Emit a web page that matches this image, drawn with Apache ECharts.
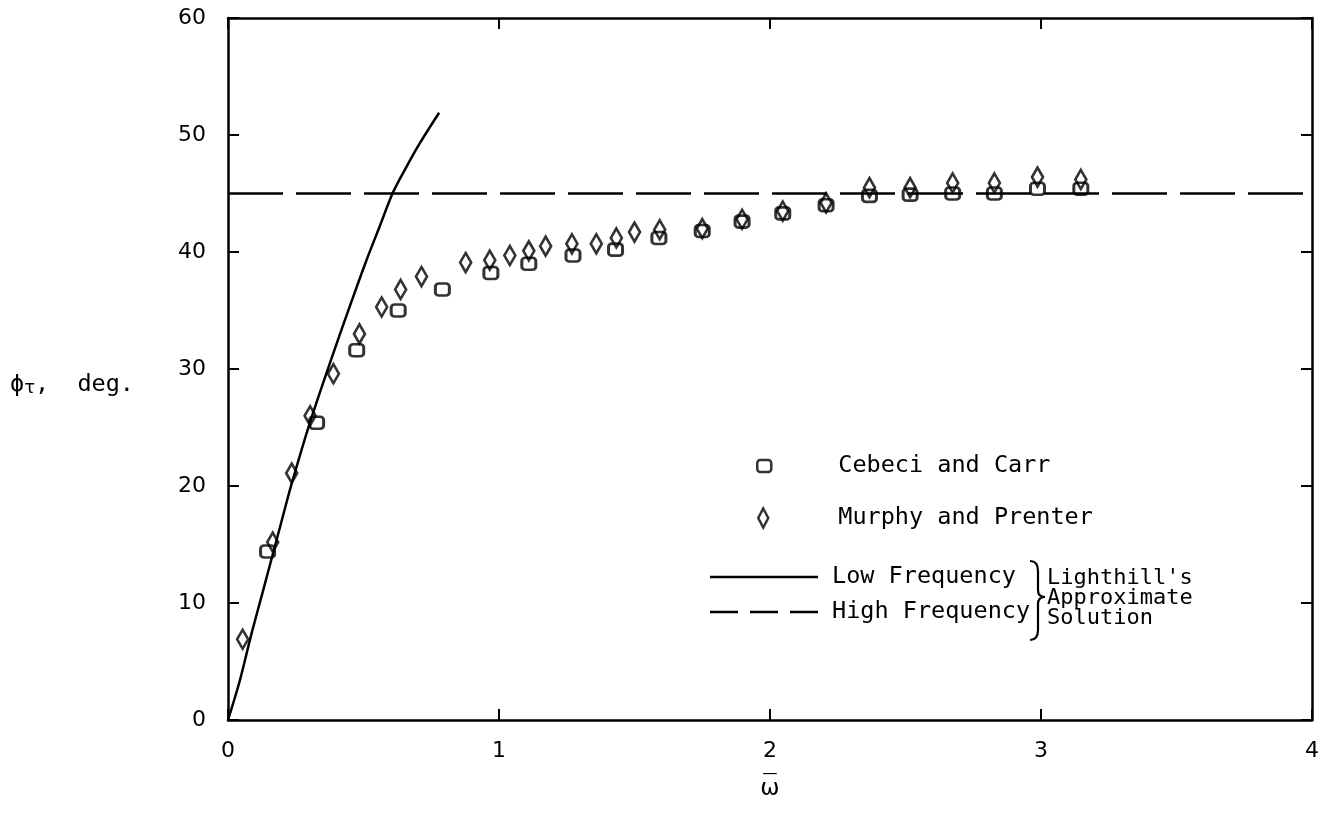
<!DOCTYPE html>
<html><head><meta charset="utf-8">
<script src="https://cdn.jsdelivr.net/npm/echarts@6/dist/echarts.min.js"></script>
<style>html,body{margin:0;padding:0;background:#fff}#c{width:1322px;height:815px}</style>
</head><body><div id="c"></div>
<script>
// ---- data ----
const xTickValues = [0, 1, 2, 3, 4];
const yTickValues = [0, 10, 20, 30, 40, 50, 60];

const cebeciX = [0.146, 0.327, 0.475, 0.628, 0.791, 0.970, 1.110, 1.273, 1.430, 1.590, 1.750, 1.897, 2.047, 2.207, 2.367, 2.517, 2.674, 2.828, 2.987, 3.147];
const cebeciY = [14.4, 25.4, 31.6, 35.0, 36.8, 38.2, 39.0, 39.7, 40.2, 41.2, 41.8, 42.6, 43.3, 44.0, 44.8, 44.9, 45.0, 45.0, 45.4, 45.4];

const murphyX = [0.054, 0.165, 0.235, 0.303, 0.389, 0.485, 0.567, 0.637, 0.714, 0.877, 0.966, 1.040, 1.110, 1.172, 1.269, 1.359, 1.433, 1.500, 1.593, 1.750, 1.897, 2.047, 2.207, 2.367, 2.517, 2.674, 2.828, 2.987, 3.147];
const murphyY = [6.9, 15.2, 21.1, 26.0, 29.6, 33.0, 35.3, 36.8, 37.9, 39.1, 39.3, 39.7, 40.1, 40.5, 40.7, 40.7, 41.2, 41.7, 41.9, 42.0, 42.8, 43.5, 44.2, 45.5, 45.5, 45.9, 45.9, 46.4, 46.2];

const lowFreqX = [0, 0.044, 0.087, 0.130, 0.192, 0.235, 0.302, 0.376, 0.450, 0.511, 0.560, 0.609, 0.659, 0.708, 0.779];
const lowFreqY = [0, 3.4, 7.4, 11.1, 16.5, 20.2, 25.4, 30.5, 35.4, 39.3, 42.2, 45.1, 47.3, 49.3, 51.9];

const highFreqX = [0, 4];
const highFreqY = [45, 45];

const seriesNames = ['Cebeci and Carr', 'Murphy and Prenter', 'Low Frequency', 'High Frequency'];
const braceLabel = ["Lighthill's", 'Approximate', 'Solution'];
const xAxisTitle = ['\u2014', '\u03C9'];          // omega with an over-bar
const yAxisTitle = ['\u03D5', '\u03C4', ',  deg.'];
// --------------------------------------

const zip = (a, b) => a.map((v, i) => [v, b[i]]);
const INK = '#000';
const MONO = '"DejaVu Sans Mono", "Liberation Mono", monospace';
const SANS = '"DejaVu Sans", sans-serif';
const FS = 23.5;

const chart = echarts.init(document.getElementById('c'), null, {renderer: 'canvas'});

const axisCommon = {
  type: 'value',
  axisLine: {show: true, onZero: false, lineStyle: {color: INK, width: 2.5}},
  axisTick: {show: true, inside: true, length: 11, lineStyle: {color: INK, width: 2}},
  splitLine: {show: false}
};

const braceStyle = {fill: 'none', stroke: INK, lineWidth: 2.2};
const legendText = (padLeft) => ({fontSize: FS, lineHeight: 24, color: INK, fontFamily: MONO, padding: [0, 0, 0, padLeft]});

const option = {
  backgroundColor: '#ffffff',
  animation: false,
  grid: {left: 228, right: 9, top: 18, bottom: 95, containLabel: false},
  xAxis: [
    Object.assign({}, axisCommon, {
      min: xTickValues[0], max: xTickValues[xTickValues.length - 1], interval: 1,
      position: 'bottom',
      axisLabel: {show: true, margin: 20, fontSize: 22, color: INK, fontFamily: SANS},
      name: '{b|' + xAxisTitle[0] + '}\n{w|' + xAxisTitle[1] + '}',
      nameLocation: 'middle', nameGap: 40,
      nameTextStyle: {
        color: INK, fontFamily: SANS, align: 'center', verticalAlign: 'top',
        rich: {
          b: {fontSize: 15, lineHeight: 8, fontFamily: SANS, color: INK, align: 'center'},
          w: {fontSize: 23, lineHeight: 22, fontFamily: SANS, color: INK, align: 'center'}
        }
      }
    }),
    Object.assign({}, axisCommon, {
      min: xTickValues[0], max: xTickValues[xTickValues.length - 1], interval: 1,
      position: 'top', axisLabel: {show: false}
    })
  ],
  yAxis: [
    Object.assign({}, axisCommon, {
      min: yTickValues[0], max: yTickValues[yTickValues.length - 1], interval: 10,
      position: 'left',
      axisLabel: {show: true, margin: 22, fontSize: 22, color: INK, fontFamily: SANS}
    }),
    Object.assign({}, axisCommon, {
      min: yTickValues[0], max: yTickValues[yTickValues.length - 1], interval: 10,
      position: 'right', axisLabel: {show: false}
    })
  ],
  legend: [
    {
      data: [seriesNames[0]], orient: 'vertical', left: 756, top: 454, padding: 0,
      itemWidth: 14, itemHeight: 12, symbolKeepAspect: false,
      itemStyle: {borderWidth: 2.5},
      textStyle: legendText(62)
    },
    {
      data: [seriesNames[1]], orient: 'vertical', left: 757, top: 506, padding: 0,
      itemWidth: 10, itemHeight: 19, symbolKeepAspect: false,
      itemStyle: {borderWidth: 2.5},
      textStyle: legendText(65)
    },
    {
      data: [{name: seriesNames[2], icon: 'rect'}], orient: 'vertical', left: 710, top: 565, padding: 0,
      itemWidth: 108, itemHeight: 2.5,
      itemStyle: {color: INK, borderWidth: 0},
      textStyle: legendText(9)
    },
    {
      data: [{name: seriesNames[3], icon: 'path://M0,0h28v2h-28z M40,0h28v2h-28z M80,0h28v2h-28z'}],
      orient: 'vertical', left: 710, top: 600, padding: 0,
      itemWidth: 108, itemHeight: 2.5, symbolKeepAspect: false,
      itemStyle: {color: INK, borderWidth: 0},
      textStyle: legendText(9)
    }
  ],
  graphic: [
    {
      type: 'text', left: 10, top: 373,
      style: {
        text: '{a|' + yAxisTitle[0] + '}{s|' + yAxisTitle[1] + '}{a|' + yAxisTitle[2] + '}',
        rich: {
          a: {fontSize: FS, fontFamily: MONO, fill: INK, verticalAlign: 'bottom'},
          s: {fontSize: 18, fontFamily: SANS, fill: INK, padding: [14, 0, 0, 0], verticalAlign: 'bottom'}
        }
      }
    },
    {
      type: 'group', x: 1030, y: 561,
      children: [
        {type: 'bezierCurve', shape: {x1: 0, y1: 0, cpx1: 8, cpy1: 0, x2: 8, y2: 10}, style: braceStyle},
        {type: 'line', shape: {x1: 8, y1: 10, x2: 8, y2: 29}, style: braceStyle},
        {type: 'bezierCurve', shape: {x1: 8, y1: 29, cpx1: 8, cpy1: 36, x2: 15, y2: 36}, style: braceStyle},
        {type: 'bezierCurve', shape: {x1: 15, y1: 36, cpx1: 8, cpy1: 36, x2: 8, y2: 43}, style: braceStyle},
        {type: 'line', shape: {x1: 8, y1: 43, x2: 8, y2: 69}, style: braceStyle},
        {type: 'bezierCurve', shape: {x1: 8, y1: 69, cpx1: 8, cpy1: 79, x2: 0, y2: 79}, style: braceStyle}
      ]
    },
    {
      type: 'text', left: 1047, top: 567,
      style: {text: braceLabel.join('\n'), fontSize: 22, lineHeight: 20, fontFamily: MONO, fill: INK}
    }
  ],
  series: [
    {
      name: seriesNames[2], type: 'line', xAxisIndex: 0, yAxisIndex: 0,
      data: zip(lowFreqX, lowFreqY), smooth: 0.3, symbol: 'none', showSymbol: false,
      lineStyle: {color: INK, width: 2.5}, itemStyle: {color: INK}, z: 3
    },
    {
      name: seriesNames[3], type: 'line', xAxisIndex: 0, yAxisIndex: 0,
      data: zip(highFreqX, highFreqY), symbol: 'none', showSymbol: false,
      lineStyle: {color: INK, width: 2.5, type: [55, 13]}, itemStyle: {color: INK}, z: 3
    },
    {
      name: seriesNames[0], type: 'scatter', xAxisIndex: 0, yAxisIndex: 0,
      data: zip(cebeciX, cebeciY), symbol: 'roundRect', symbolSize: [14, 12],
      itemStyle: {color: 'rgba(255,255,255,0)', borderColor: INK, borderWidth: 2.8}, z: 4
    },
    {
      name: seriesNames[1], type: 'scatter', xAxisIndex: 0, yAxisIndex: 0,
      data: zip(murphyX, murphyY), symbol: 'diamond', symbolSize: [11, 19],
      itemStyle: {color: 'rgba(255,255,255,0)', borderColor: INK, borderWidth: 2.8}, z: 5
    }
  ]
};
chart.setOption(option);
</script>
</body></html>
